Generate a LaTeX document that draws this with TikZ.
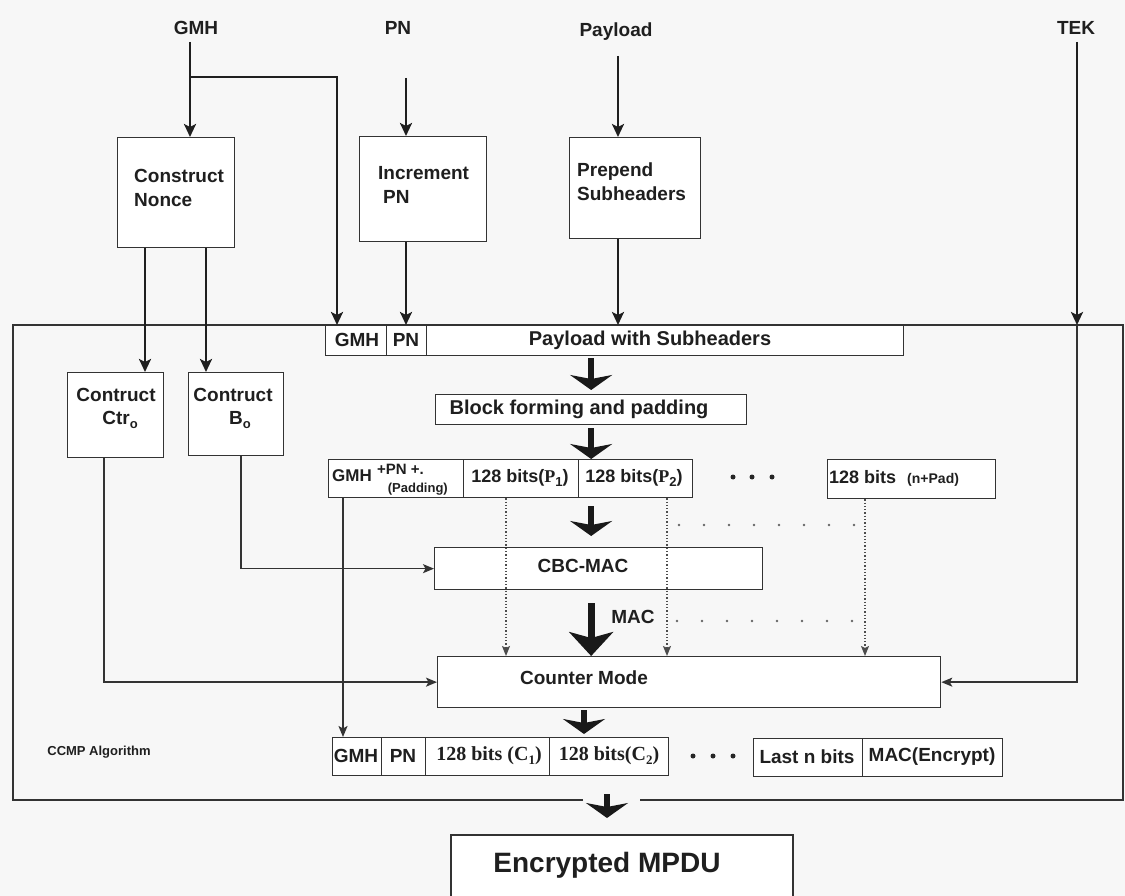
\documentclass[tikz,border=0pt]{standalone}
\usepackage{fontspec}
\setmainfont{Liberation Sans}
\newfontfamily\serifbf{Liberation Serif}
\usetikzlibrary{arrows.meta,calc}

\newcommand{\sbs}[1]{\raisebox{-4pt}{\fontsize{13}{13}\selectfont #1}}

\begin{document}
\begin{tikzpicture}[x=1pt,y=-1pt,
  box/.style={draw=black!80, line width=1.3pt, fill=white, inner sep=0pt, anchor=north west},
  t/.style={font=\fontsize{19}{24}\selectfont\bfseries, inner sep=0pt, text=black!88, align=left},
  arr/.style={draw=black!88, line width=2.6pt, -{Stealth[length=13pt,width=12pt,inset=3pt]}},
  wire/.style={draw=black!80, line width=1.6pt, -{Stealth[length=11pt,width=9pt,inset=2.5pt]}},
  dotv/.style={draw=black!70, line width=1.3pt, dash pattern=on 1.3pt off 2pt, -{Stealth[length=10pt,width=8pt,inset=2pt]}},
  doth/.style={draw=black!60, line width=2.6pt, line cap=round, dash pattern=on 0pt off 25pt},
  fat/.style={draw=black!90, line width=6.5pt, -{Stealth[length=15pt,width=42pt,inset=4pt]}},
  frame/.style={draw=black!80, line width=1.5pt},
  bigdot/.style={fill=black!85, circle, inner sep=0pt, minimum size=5pt}
]
\useasboundingbox (0,0) rectangle (1125,896);
\clip (0,0) rectangle (1125,896);
\fill[white!97!black] (0,0) rectangle (1125,896);

% inputs
\node[t] (lgmh) at (196,28) {GMH};
\node[t] (lpn)  at (398,28) {PN};
\node[t] (lpay) at (616,32) {Payload};
\node[t] (ltek) at (1076,28) {TEK};

% preprocessing boxes
\node[box, minimum width=117pt, minimum height=110pt] (nonce) at (117,137) {};
\node[t, anchor=west] (noncet) at (134,188) {Construct\\Nonce};
\node[box, minimum width=127pt, minimum height=105pt] (inc) at (359,136) {};
\node[t, anchor=west] (inct) at (378,185) {Increment\\\hspace*{5pt}PN};
\node[box, minimum width=131pt, minimum height=101pt] (pre) at (569,137) {};
\node[t, anchor=west] (pret) at (577,182) {Prepend\\Subheaders};

% CCMP frame, open at the bottom for the output arrow
\coordinate (gapL) at (583,800);
\coordinate (gapR) at (640,800);
\coordinate (fbl) at (13,800);
\coordinate (ftl) at (13,325);
\coordinate (ftr) at (1123,325);
\coordinate (fbr) at (1123,800);
\draw[frame] (gapL) -- (fbl) -- (ftl) -- (ftr) -- (fbr) -- (gapR);

% MPDU with subheaders
\node[box, line width=1.2pt, minimum width=61pt, minimum height=30pt] (sgmh) at (325,325) {};
\node[box, line width=1.2pt, minimum width=40pt, minimum height=30pt] (spn) at (386,325) {};
\node[box, line width=1.2pt, minimum width=477pt, minimum height=30pt] (spay) at (426,325) {};
\node[t] (sgmht) at (357,340) {GMH};
\node[t] (spnt) at (406,340) {PN};
\node[t, font=\fontsize{20}{24}\selectfont\bfseries] (spayt) at (650,340) {Payload with Subheaders};

% block forming
\node[box, minimum width=311pt, minimum height=30pt] (blk) at (435,394) {};
\node[t, font=\fontsize{20}{24}\selectfont\bfseries] (blkt) at (579,409) {Block forming and padding};

% nonce derived blocks
\node[box, minimum width=96pt, minimum height=85pt] (ctr) at (67,372) {};
\node[t] (ctrt1) at (116,395) {Contruct};
\node[t] (ctrt2) at (120,420) {Ctr\sbs{o}};
\node[box, minimum width=95pt, minimum height=83pt] (b0) at (188,372) {};
\node[t] (b0t1) at (233,395) {Contruct};
\node[t] (b0t2) at (240,420) {B\sbs{o}};

% plaintext blocks
\node[box, line width=1.2pt, minimum width=135pt, minimum height=38pt] (gp) at (328,459) {};
\node[box, line width=1.2pt, minimum width=115pt, minimum height=38pt] (p1) at (463,459) {};
\node[box, line width=1.2pt, minimum width=114pt, minimum height=38pt] (p2) at (578,459) {};
\node[box, line width=1.2pt, minimum width=168pt, minimum height=39pt] (np) at (827,459) {};
\node[t, anchor=west, font=\fontsize{17}{20}\selectfont\bfseries] (gpt1) at (332,476) {GMH};
\node[t, anchor=west, font=\fontsize{15}{18}\selectfont\bfseries] (gpt2) at (377,469) {+PN +.};
\node[t, anchor=east, font=\fontsize{13}{15}\selectfont\bfseries] (gpt3) at (448,489) {(Padding)};
\node[t, font=\fontsize{18}{22}\selectfont\bfseries] (p1t) at (520,478) {128 bits({\serifbf\bfseries P}\sbs{1})};
\node[t, font=\fontsize{18}{22}\selectfont\bfseries] (p2t) at (634,478) {128 bits({\serifbf\bfseries P}\sbs{2})};
\node[t, anchor=west, font=\fontsize{18}{22}\selectfont\bfseries] (npt) at (829,478) {128 bits \hspace{6pt}{\fontsize{14}{16}\selectfont(n+Pad)}};
\node[bigdot] (md1) at (733,477) {};
\node[bigdot] (md2) at (752,477) {};
\node[bigdot] (md3) at (772,477) {};

% CBC-MAC and counter mode
\node[box, minimum width=328pt, minimum height=42pt] (cbc) at (434,547) {};
\node[t] (cbct) at (583,566) {CBC-MAC};
\node[box, minimum width=503pt, minimum height=51pt] (cm) at (437,656) {};
\node[t] (cmt) at (584,678) {Counter Mode};
\node[t] (mact) at (633,617) {MAC};

% ciphertext blocks
\node[box, line width=1.2pt, minimum width=49pt, minimum height=38pt] (bg) at (332,737) {};
\node[box, line width=1.2pt, minimum width=44pt, minimum height=38pt] (bp) at (381,737) {};
\node[box, line width=1.2pt, minimum width=124pt, minimum height=38pt] (bc1) at (425,737) {};
\node[box, line width=1.2pt, minimum width=119pt, minimum height=38pt] (bc2) at (549,737) {};
\node[box, line width=1.2pt, minimum width=109pt, minimum height=38pt] (bl) at (753,738) {};
\node[box, line width=1.2pt, minimum width=140pt, minimum height=38pt] (bm) at (862,738) {};
\node[t] (bgt) at (356,756) {GMH};
\node[t] (bpt) at (403,756) {PN};
\node[t, font=\serifbf\fontsize{20}{24}\selectfont\bfseries] (bc1t) at (489,756) {128 bits (C\sbs{1})};
\node[t, font=\serifbf\fontsize{20}{24}\selectfont\bfseries] (bc2t) at (609,756) {128 bits(C\sbs{2})};
\node[t] (blt) at (807,757) {Last n bits};
\node[t] (bmt) at (932,757) {MAC(Encrypt)};
\node[bigdot] (bd1) at (693,756) {};
\node[bigdot] (bd2) at (713,756) {};
\node[bigdot] (bd3) at (733,756) {};

\node[t, font=\fontsize{13}{16}\selectfont\bfseries] (ccmp) at (99,752) {CCMP Algorithm};

% output
\node[box, line width=2pt, minimum width=342pt, minimum height=80pt] (mpdu) at (450,834) {};
\node[t, font=\fontsize{28}{32}\selectfont\bfseries] (mpdut) at (607,865) {Encrypted MPDU};

% input wiring
\coordinate (g0) at (190,42);
\coordinate (gb) at (190,77);
\coordinate (gx) at (337,0);
\coordinate (p0) at (406,78);
\coordinate (y0) at (618,56);
\coordinate (k0) at (1077,42);
\draw[arr] (g0) -- (g0 |- nonce.north);
\draw[arr] (gb) -| (gx |- sgmh.north);
\draw[arr] (p0) -- (p0 |- inc.north);
\draw[arr] (p0 |- inc.south) -- (p0 |- spn.north);
\draw[arr] (y0) -- (y0 |- pre.north);
\draw[arr] (y0 |- pre.south) -- (y0 |- spay.north);
\draw[arr] (k0) -- (k0 |- ftr);
\draw[wire] (k0 |- ftr) |- (cm.east);

% nonce wiring
\coordinate (n1) at (145,0);
\coordinate (n2) at (206,0);
\coordinate (c1) at (104,0);
\coordinate (c2) at (241,0);
\coordinate (c3) at (343,0);
\draw[arr] (n1 |- nonce.south) -- (n1 |- ctr.north);
\draw[arr] (n2 |- nonce.south) -- (n2 |- b0.north);
\draw[wire] (c1 |- ctr.south) |- (cm.west);
\draw[wire] (c2 |- b0.south) |- (cbc.west);
\draw[wire] (c3 |- gp.south) -- (c3 |- bg.north);

% plaintext blocks into counter mode
\coordinate (d1) at (506,0);
\coordinate (d2) at (667,0);
\coordinate (d3) at (865,0);
\coordinate (h1) at (0,525);
\coordinate (h2) at (0,621);
\draw[dotv] (d1 |- p1.south) -- (d1 |- cm.north);
\draw[dotv] (d2 |- p2.south) -- (d2 |- cm.north);
\draw[dotv] (d3 |- np.south) -- (d3 |- cm.north);
\draw[doth] ($(d2 |- h1)+(12,0)$) -- (d3 |- h1);
\draw[doth] ($(d2 |- h2)+(10,0)$) -- (d3 |- h2);

% data flow
\draw[fat] ($(blk.north |- spay.south)+(0,2)$) -- ($(blk.north)+(0,-4)$);
\draw[fat] ($(blk.south)+(0,3)$) -- (blk.south |- gp.north);
\draw[fat] ($(blk.south |- gp.south)+(0,8)$) -- ($(blk.south |- cbc.north)+(0,-11)$);
\draw[draw=black!90, line width=7pt, -{Stealth[length=24pt,width=44pt,inset=6pt]}] ($(blk.south |- cbc.south)+(0,13)$) -- (blk.south |- cm.north);
\draw[fat] ($(cmt |- cm.south)+(0,2)$) -- ($(cmt |- bc1.north)+(0,-3)$);
\draw[fat] ($(mpdut |- gapL)+(0,-6)$) -- ($(mpdut |- gapL)+(0,18)$);
\end{tikzpicture}
\end{document}
